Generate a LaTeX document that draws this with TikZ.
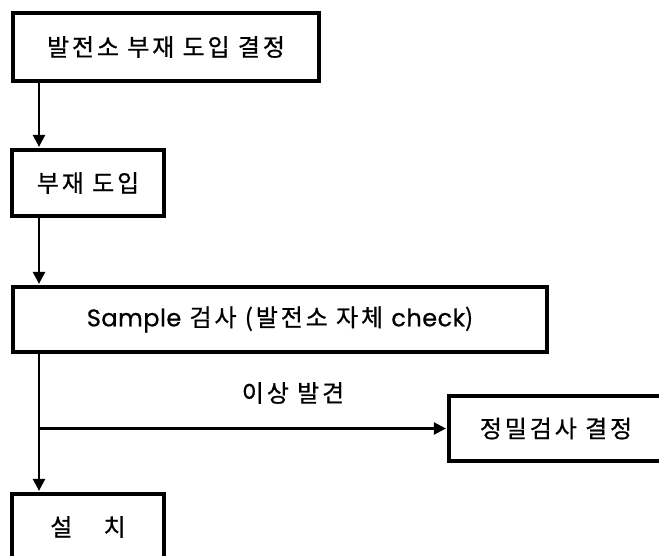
\documentclass[tikz,border=0pt]{standalone}
\usepackage{fontspec}
\setmainfont{Noto Sans CJK KR}[LetterSpace=12, FakeBold=0.8]
\newfontfamily\latinfont{Poppins}[LetterSpace=2, FakeBold=0.8]
\usetikzlibrary{arrows.meta}
\tikzset{
    stage/.style={draw=black, line width=3.2pt, inner sep=0pt, font=\fontsize{24}{28}\selectfont},
    flow/.style={line width=2.4pt, -{Triangle[length=12pt, width=12pt]}, shorten >=1.5pt}
}
\begin{document}
\begin{tikzpicture}[x=1pt, y=-1pt]
        \useasboundingbox (0,0) rectangle (659,556);

        \node[stage, minimum width=306pt, minimum height=68pt] (decide) at (166,47) {발전소 부재 도입 결정};
        \node[stage, minimum width=152pt, minimum height=66pt] (intro) at (88,183) {부재 도입};
        \node[stage, minimum width=534pt, minimum height=65pt] (sample) at (280,319.5) {{\latinfont Sample} 검사 (발전소 자체 {\latinfont check})};
        \node[stage, minimum width=214pt, minimum height=65pt] (detail) at (556,428.5) {정밀검사 결정};
        \node[stage, minimum width=152pt, minimum height=66pt] (install) at (88,527) {설\hspace{1.3em}치};

        \coordinate (trunk) at (39,0);
        \coordinate (split) at (39,428.5);

        \draw[flow] (decide.south -| trunk) -- (intro.north -| trunk);
        \draw[flow] (intro.south -| trunk) -- (sample.north -| trunk);
        \draw[flow] (sample.south -| trunk) -- (install.north -| trunk);
        \draw[flow] (split) -- (detail.west);
        \node[font=\fontsize{24}{28}\selectfont] (found) at (293,393) {이상 발견};
    \end{tikzpicture}
\end{document}
